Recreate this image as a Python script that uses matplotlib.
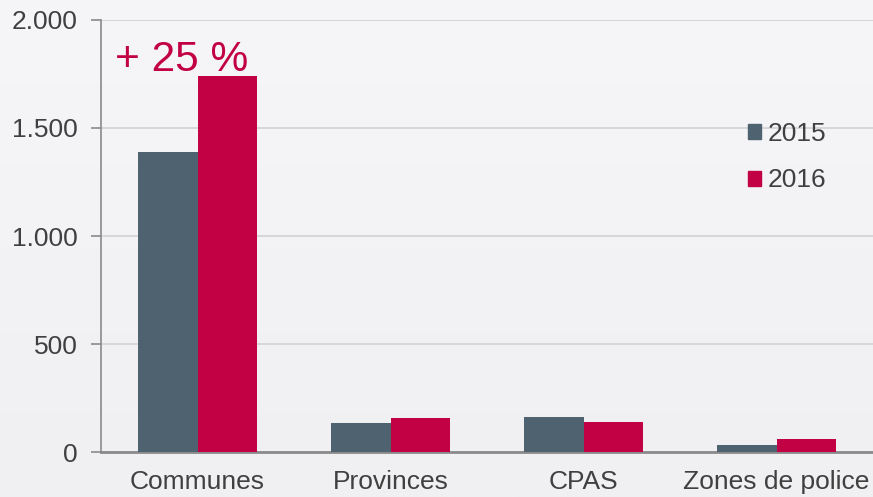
import matplotlib

matplotlib.use("Agg")
import matplotlib.pyplot as plt
import numpy as np
from matplotlib.patches import Patch
from matplotlib.ticker import FuncFormatter

categories = ["Communes", "Provinces", "CPAS", "Zones de police"]
values_2015 = [1390, 136, 160, 34]
values_2016 = [1740, 159, 137, 59]
series_labels = ["2015", "2016"]
y_ticks = [0, 500, 1000, 1500, 2000]
annotation = "+ 25 %"

COL_2015 = "#4f626f"
COL_2016 = "#c20044"
TEXT = "#404040"

plt.rcParams["font.family"] = ["Liberation Sans", "DejaVu Sans"]

fig = plt.figure(figsize=(8.73, 4.97), dpi=100)
fig.patch.set_facecolor("#f3f3f5")
ax = fig.add_axes([101 / 873, 45 / 497, 772 / 873, 432 / 497])
ax.set_facecolor("none")

# soft vertical gradient behind everything
grad = np.linspace(0, 1, 256).reshape(-1, 1)
bg = fig.add_axes([0, 0, 1, 1], zorder=-10)
bg.imshow(grad, aspect="auto", cmap=matplotlib.colors.LinearSegmentedColormap.from_list(
    "bg", ["#f6f6f8", "#f0f0f2"]), extent=[0, 1, 0, 1])
bg.axis("off")

x = np.arange(len(categories))
w = 0.31
ax.bar(x - w / 2, values_2015, w, color=COL_2015, zorder=3)
ax.bar(x + w / 2, values_2016, w, color=COL_2016, zorder=3)

ax.set_xlim(-0.5, len(categories) - 0.5)
ax.set_ylim(0, 2000)
ax.set_yticks(y_ticks)
ax.yaxis.set_major_formatter(FuncFormatter(lambda v, _: f"{int(v):,}".replace(",", ".")))
ax.set_xticks(x)
ax.set_xticklabels(categories)
ax.grid(axis="y", color="#d2d2d4", linewidth=1.2, zorder=0)

for s in ["top", "right"]:
    ax.spines[s].set_visible(False)
ax.spines["left"].set_color("#8a8a8a")
ax.spines["left"].set_linewidth(1.2)
ax.spines["bottom"].set_color("#8a8a8a")
ax.spines["bottom"].set_linewidth(2)
ax.tick_params(axis="y", length=7, width=1.2, color="#8a8a8a", labelsize=19,
               labelcolor=TEXT, pad=10)
ax.tick_params(axis="x", length=0, labelsize=19, labelcolor=TEXT, pad=13)

ax.text(-0.427, 1765, annotation, color=COL_2016, fontsize=30.5,
        ha="left", va="baseline")

handles = [Patch(color=COL_2015), Patch(color=COL_2016)]
ax.legend(handles, series_labels, loc="upper left", bbox_to_anchor=(0.807, 0.82),
          frameon=False, fontsize=19, handlelength=0.5, handleheight=0.5,
          handletextpad=0.25, labelspacing=0.87, labelcolor=TEXT)

fig.savefig("out.png", dpi=100, facecolor=fig.get_facecolor())
